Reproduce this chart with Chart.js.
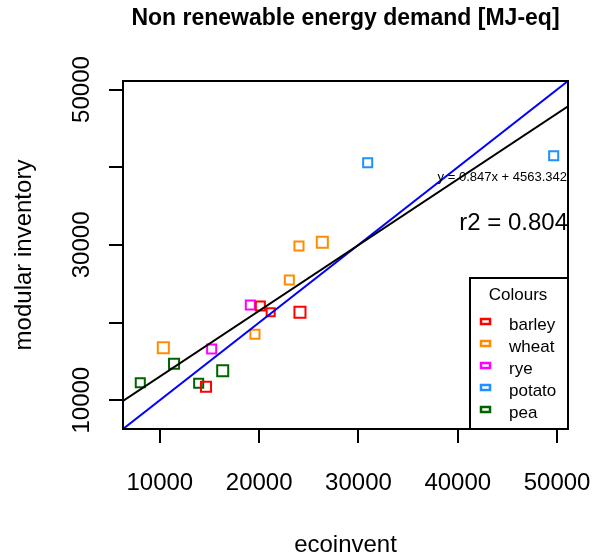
<!DOCTYPE html>
<html>
<head>
<meta charset="utf-8">
<script src="https://cdn.jsdelivr.net/npm/chart.js@4"></script>
<style>
  html, body { margin: 0; padding: 0; background: #fff; }
  canvas { display: block; }
</style>
</head>
<body>
<canvas id="chart" width="596" height="559"></canvas>
<script>
// values
const categories = ['barley', 'wheat', 'rye', 'potato', 'pea'];
const barleyX = [20120, 21160, 24110, 14650];
const barleyY = [22130, 21320, 21320, 11740];
const wheatX = [10350, 19580, 23040, 24010, 26360];
const wheatY = [16760, 18480, 25480, 29850, 30330];
const ryeX = [19110, 15220];
const ryeY = [22260, 16590];
const potatoX = [30930, 49660];
const potatoY = [40580, 41480];
const peaX = [8030, 11430, 13910, 16330];
const peaY = [12250, 14700, 12170, 13800];

const xTicks = [10000, 20000, 30000, 40000, 50000];
const yTicks = [10000, 20000, 30000, 40000, 50000];
const yTickLabels = ['10000', '', '30000', '', '50000'];

const fitSlope = 0.847;
const fitIntercept = 4563.342;
const r2 = 0.804;
const axisMin = 6290;
const axisMax = 51100;

const colours = ['#FF0000', '#FF8C00', '#FF00FF', '#1E90FF', '#006400'];
// marker radius per point (symbols differ a little in size)
const sizes = [[6.4, 5.7, 7.8, 7.1], [7.8, 6.4, 6.4, 6.4, 7.8], [6.4, 6.4], [6.4, 6.4], [6.4, 7.1, 6.4, 7.8]];

const seriesX = [barleyX, wheatX, ryeX, potatoX, peaX];
const seriesY = [barleyY, wheatY, ryeY, potatoY, peaY];

const FONT = '"Liberation Sans", Arial, Helvetica, sans-serif';

const pointSets = categories.map((name, i) => ({
  label: name,
  data: seriesX[i].map((v, j) => ({ x: v, y: seriesY[i][j] })),
  pointStyle: 'rect',
  pointRadius: sizes[i],
  borderColor: colours[i],
  backgroundColor: 'rgba(0,0,0,0)',
  borderWidth: 2
}));

const lineSets = [
  {
    label: 'fit',
    data: [axisMin, axisMax].map(v => ({ x: v, y: fitSlope * v + fitIntercept })),
    showLine: true,
    borderColor: '#000',
    borderWidth: 2,
    pointRadius: 0
  },
  {
    label: '1:1',
    data: [axisMin, axisMax].map(v => ({ x: v, y: v })),
    showLine: true,
    borderColor: '#0000FF',
    borderWidth: 2,
    pointRadius: 0
  }
];

const frame = {
  id: 'frame',
  afterDatasetsDraw(chart) {
    const { ctx, chartArea: a, scales: { x, y } } = chart;
    ctx.save();
    ctx.strokeStyle = '#000';
    ctx.lineWidth = 2;
    ctx.fillStyle = '#000';

    // ticks
    ctx.beginPath();
    xTicks.forEach(v => {
      const px = Math.round(x.getPixelForValue(v));
      ctx.moveTo(px, a.bottom);
      ctx.lineTo(px, a.bottom + 14);
    });
    yTicks.forEach(v => {
      const py = Math.round(y.getPixelForValue(v));
      ctx.moveTo(a.left, py);
      ctx.lineTo(a.left - 14, py);
    });
    ctx.stroke();

    // tick labels
    ctx.font = '24px ' + FONT;
    ctx.textAlign = 'center';
    ctx.textBaseline = 'middle';
    xTicks.forEach(v => ctx.fillText(String(v), x.getPixelForValue(v), 483));
    yTicks.forEach((v, i) => {
      ctx.save();
      ctx.translate(82, y.getPixelForValue(v));
      ctx.rotate(-Math.PI / 2);
      ctx.fillText(yTickLabels[i], 0, 0);
      ctx.restore();
    });

    // axis titles
    const midX = (a.left + a.right) / 2;
    const midY = (a.top + a.bottom) / 2;
    ctx.fillText('ecoinvent', midX, 545);
    ctx.save();
    ctx.translate(24, midY);
    ctx.rotate(-Math.PI / 2);
    ctx.fillText('modular inventory', 0, 0);
    ctx.restore();

    // main title
    ctx.font = 'bold 23px ' + FONT;
    ctx.fillText('Non renewable energy demand [MJ-eq]', midX, 19);

    // fit annotations
    ctx.textAlign = 'right';
    ctx.font = '13px ' + FONT;
    ctx.fillText('y = ' + fitSlope + 'x + ' + fitIntercept, a.right - 1, 177);
    ctx.font = '24px ' + FONT;
    ctx.fillText('r2 = ' + r2, a.right, 223);

    // legend
    const lx = a.right - 98, ly = a.bottom - 151;
    ctx.fillStyle = '#fff';
    ctx.fillRect(lx, ly, a.right - lx, a.bottom - ly);
    ctx.strokeRect(lx, ly, a.right - lx, a.bottom - ly);
    ctx.fillStyle = '#000';
    ctx.textAlign = 'center';
    ctx.font = '17px ' + FONT;
    ctx.fillText('Colours', lx + 48, ly + 17);
    ctx.textAlign = 'left';
    ctx.lineWidth = 2.5;
    categories.forEach((name, i) => {
      const rowY = ly + 44 + i * 22;
      ctx.strokeStyle = colours[i];
      ctx.strokeRect(lx + 11, rowY - 3, 9, 5);
      ctx.fillStyle = '#000';
      ctx.fillText(name, lx + 39, rowY + 3);
    });

    // plot box
    ctx.lineWidth = 2;
    ctx.strokeStyle = '#000';
    ctx.strokeRect(a.left, a.top, a.right - a.left, a.bottom - a.top);
    ctx.restore();
  }
};

new Chart(document.getElementById('chart').getContext('2d'), {
  type: 'scatter',
  data: { datasets: [...lineSets, ...pointSets] },
  options: {
    responsive: false,
    animation: false,
    layout: { padding: { left: 123, top: 81, right: 28, bottom: 130 } },
    scales: {
      x: { type: 'linear', min: axisMin, max: axisMax, display: false },
      y: { type: 'linear', min: axisMin, max: axisMax, display: false }
    },
    plugins: {
      legend: { display: false },
      tooltip: { enabled: false }
    }
  },
  plugins: [frame]
});
</script>
</body>
</html>
